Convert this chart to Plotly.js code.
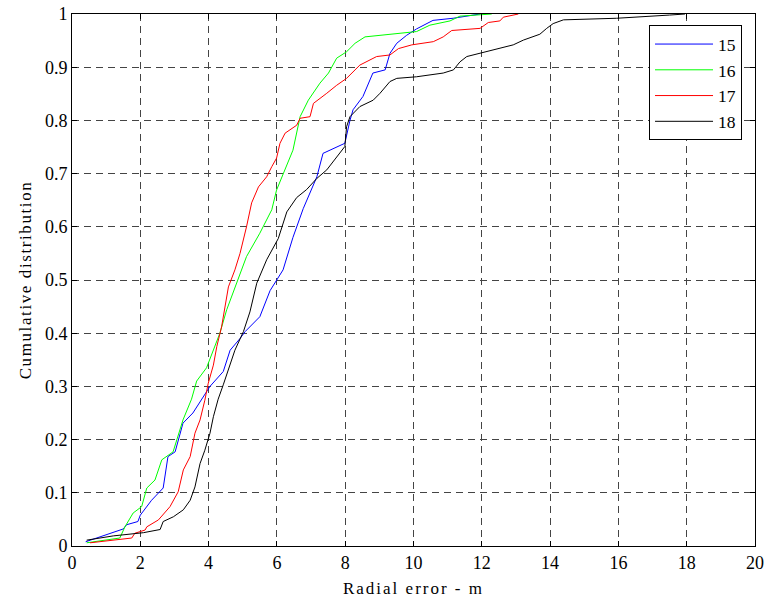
<!DOCTYPE html>
<html>
<head>
<meta charset="utf-8">
<script src="https://cdn.plot.ly/plotly-3.0.1.min.js"></script>
<style>
html,body{margin:0;padding:0;background:#fff;}
#chart{width:766px;height:603px;}
.xtitle{letter-spacing:2px;}
.ytitle{letter-spacing:1.6px;}
</style>
</head>
<body>
<div id="chart"></div>
<script>
// Series 15 (blue)
const x15 = [0.4,1.5,1.6,1.93,2.0,2.33,2.67,2.81,3.02,3.25,3.54,3.84,4.04,4.43,4.63,4.92,5.07,5.5,5.8,6.18,6.47,6.77,7.17,7.35,7.99,8.14,8.23,8.52,8.81,9.17,9.31,9.51,9.69,9.8,10.09,10.48,10.57,11.16,11.95];
const y15 = [0.008,0.032,0.04,0.046,0.058,0.086,0.109,0.168,0.177,0.231,0.25,0.28,0.30,0.328,0.368,0.39,0.403,0.431,0.48,0.519,0.58,0.634,0.694,0.738,0.757,0.80,0.82,0.845,0.889,0.895,0.926,0.945,0.955,0.96,0.972,0.986,0.988,0.992,1.0];
// Series 16 (green)
const x16 = [0.43,1.4,1.55,1.79,2.04,2.19,2.43,2.63,2.96,3.1,3.25,3.5,3.65,3.94,4.13,4.33,4.53,4.82,5.11,5.5,5.85,5.99,6.24,6.47,6.68,6.92,7.26,7.51,7.75,8.04,8.29,8.58,10.09,10.48,11.07,11.36,12.29];
const y16 = [0.006,0.015,0.036,0.062,0.074,0.109,0.124,0.162,0.177,0.205,0.237,0.276,0.31,0.335,0.368,0.40,0.444,0.494,0.544,0.588,0.632,0.669,0.707,0.744,0.807,0.838,0.87,0.889,0.917,0.929,0.945,0.957,0.967,0.979,0.987,0.996,1.0];
// Series 17 (red)
const x17 = [0.53,1.5,1.75,1.84,2.14,2.19,2.53,2.87,3.11,3.26,3.46,3.6,3.75,3.89,3.99,4.14,4.24,4.38,4.48,4.58,4.77,4.92,5.11,5.26,5.46,5.7,5.85,5.99,6.09,6.24,6.58,6.68,6.97,7.07,7.46,7.75,8.04,8.43,8.92,9.31,9.56,9.95,10.58,10.87,11.12,11.95,12.19,12.53,12.63,13.07];
const y17 = [0.006,0.013,0.015,0.024,0.03,0.036,0.049,0.074,0.102,0.143,0.168,0.212,0.237,0.274,0.306,0.34,0.375,0.412,0.45,0.487,0.519,0.55,0.60,0.645,0.675,0.694,0.713,0.729,0.757,0.776,0.791,0.804,0.807,0.832,0.851,0.866,0.879,0.904,0.92,0.923,0.935,0.942,0.948,0.957,0.969,0.973,0.984,0.987,0.994,1.0];
// Series 18 (black)
const x18 = [0.43,1.21,2.09,2.58,2.67,2.97,3.26,3.46,3.6,3.75,3.89,4.04,4.14,4.28,4.43,4.58,4.77,5.02,5.21,5.41,5.7,6.04,6.29,6.58,6.87,7.17,7.46,7.99,8.04,8.14,8.43,8.82,9.02,9.31,9.51,10.09,10.87,11.17,11.36,11.56,11.95,12.34,12.92,13.22,13.7,13.9,14.09,14.39,15.95,17.5,17.95];
const y18 = [0.011,0.019,0.025,0.031,0.046,0.055,0.068,0.086,0.111,0.155,0.18,0.212,0.243,0.276,0.303,0.331,0.368,0.403,0.44,0.494,0.538,0.578,0.628,0.655,0.670,0.691,0.707,0.751,0.788,0.807,0.826,0.838,0.851,0.873,0.879,0.882,0.889,0.895,0.91,0.92,0.926,0.932,0.942,0.951,0.962,0.973,0.982,0.989,0.992,0.998,1.0];

const names = ['15','16','17','18'];
const colors = ['#0000ff','#00ff00','#ff0000','#000000'];
const xs = [x15,x16,x17,x18];
const ys = [y15,y16,y17,y18];

const traces = names.map((n,i)=>({
  x: xs[i], y: ys[i], name: n, type:'scatter', mode:'lines',
  line:{color:colors[i], width:1}
}));

const fam = 'Liberation Serif, Times New Roman, serif';
const axisBase = {
  showline:true, linecolor:'#000', linewidth:1, mirror:'allticks',
  ticks:'inside', ticklen:5, tickcolor:'#000',
  showgrid:true, gridcolor:'#444', griddash:'7px,5px', gridwidth:1,
  zeroline:false, tickfont:{family:fam, size:18, color:'#000'}
};
const layout = {
  width:766, height:603,
  margin:{l:72, r:11, t:14, b:57},
  paper_bgcolor:'#fff', plot_bgcolor:'#fff',
  font:{family:fam, color:'#000'},
  showlegend:true,
  legend:{x:0.981, y:0.979, xanchor:'right', yanchor:'top',
    bgcolor:'#fff', bordercolor:'#000', borderwidth:1,
    font:{family:fam, size:17.5, color:'#000'}, tracegroupgap:0, itemwidth:58},
  xaxis:Object.assign({}, axisBase, {range:[0,20], dtick:2, tick0:0,
    title:{text:'Radial error - m', font:{family:fam, size:17, color:'#000'}, standoff:10}}),
  yaxis:Object.assign({}, axisBase, {range:[0,1], dtick:0.1, tick0:0,
    title:{text:'Cumulative distribution', font:{family:fam, size:17, color:'#000'}, standoff:8}})
};
Plotly.newPlot('chart', traces, layout, {displayModeBar:false, staticPlot:true});
</script>
</body>
</html>
